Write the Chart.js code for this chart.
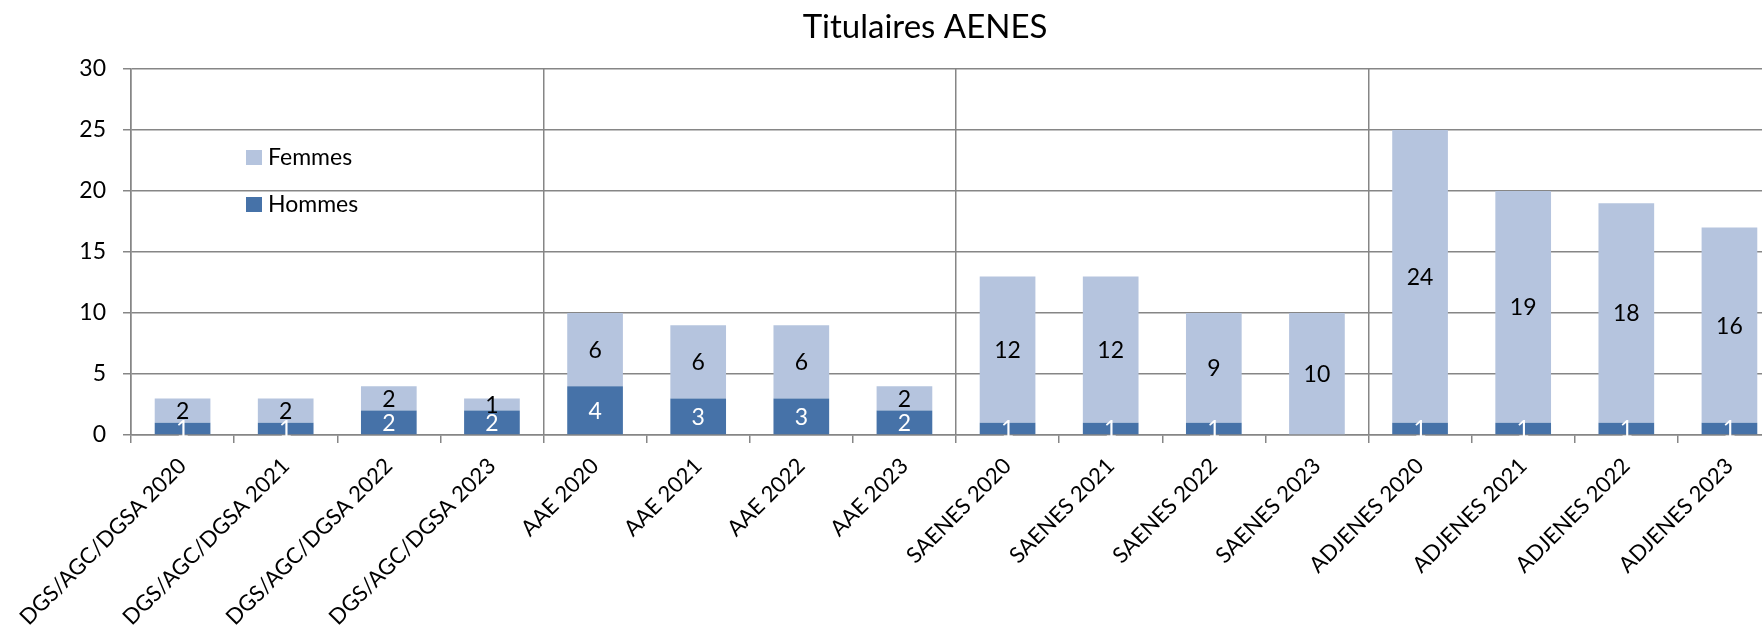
<!DOCTYPE html>
<html>
<head>
<meta charset="utf-8">
<script src="https://cdn.jsdelivr.net/npm/chart.js@4/dist/chart.umd.min.js"></script>
<style>
body { margin: 0; overflow: hidden; background: #fff; }
#wrap { width: 1762px; height: 634px; overflow: hidden; }
</style>
</head>
<body>
<div id="wrap"><canvas id="myChart" width="1854" height="634"></canvas></div>
<script>
var ctx = document.getElementById('myChart');

var categories = ['DGS/AGC/DGSA 2020', 'DGS/AGC/DGSA 2021', 'DGS/AGC/DGSA 2022', 'DGS/AGC/DGSA 2023',
  'AAE 2020', 'AAE 2021', 'AAE 2022', 'AAE 2023',
  'SAENES 2020', 'SAENES 2021', 'SAENES 2022', 'SAENES 2023',
  'ADJENES 2020', 'ADJENES 2021', 'ADJENES 2022', 'ADJENES 2023'];
var hommes = [1, 1, 2, 2, 4, 3, 3, 2, 1, 1, 1, 0, 1, 1, 1, 1];
var femmes = [2, 2, 2, 1, 6, 6, 6, 2, 12, 12, 9, 10, 24, 19, 18, 16];
var yTicks = [0, 5, 10, 15, 20, 25, 30];

var gridGrey = '#868686';
var fontName = 'Lato';

// value labels in the middle of each segment
var valueLabels = {
  id: 'valueLabels',
  afterDatasetsDraw: function (chart) {
    var c = chart.ctx;
    c.save();
    c.font = '23px ' + fontName;
    c.textAlign = 'center';
    c.textBaseline = 'middle';
    chart.data.datasets.forEach(function (ds, i) {
      var meta = chart.getDatasetMeta(i);
      c.fillStyle = ds.labelColor;
      meta.data.forEach(function (bar, j) {
        var v = ds.data[j];
        if (!v) return;
        var p = bar.getProps(['x', 'y', 'base'], true);
        c.fillText(String(v), p.x, (p.y + p.base) / 2 + 1);
      });
    });
    c.restore();
  }
};

// title + legend inside the plot, like the original
var titleAndLegend = {
  id: 'titleAndLegend',
  afterDraw: function (chart) {
    var c = chart.ctx;
    var area = chart.chartArea;
    c.save();
    c.fillStyle = '#000';
    c.font = '33px ' + fontName;
    c.textAlign = 'center';
    c.textBaseline = 'middle';
    c.fillText('Titulaires AENES', 925, 27);

    var items = chart.data.datasets.slice().reverse();
    c.font = '23px ' + fontName;
    c.textAlign = 'left';
    items.forEach(function (ds, k) {
      var y = area.top + 88 + k * 47;
      c.fillStyle = ds.backgroundColor;
      c.fillRect(area.left + 115, y - 7, 16, 15);
      c.fillStyle = '#000';
      c.fillText(ds.label, area.left + 137, y + 1);
    });
    c.restore();
  }
};

var chart = new Chart(ctx, {
  type: 'bar',
  data: {
    labels: categories,
    datasets: [{
      label: 'Hommes',
      data: hommes,
      backgroundColor: '#4672a8',
      labelColor: '#ffffff'
    }, {
      label: 'Femmes',
      data: femmes,
      backgroundColor: '#b5c4de',
      labelColor: '#000000'
    }]
  },
  options: {
    responsive: false,
    animation: false,
    layout: { padding: { top: 69, right: 73, left: 0, bottom: 0 } },
    categoryPercentage: 1,
    barPercentage: 0.54,
    plugins: {
      legend: { display: false },
      title: { display: false },
      tooltip: { enabled: false }
    },
    scales: {
      x: {
        stacked: true,
        offset: true,
        afterFit: function (scale) {
          scale.height = 199;
          scale.paddingLeft = 0;
          scale.paddingRight = 0;
        },
        grid: {
          offset: true,
          color: function (c) { return c.index % 4 === 0 ? gridGrey : 'rgba(0,0,0,0)'; },
          tickColor: gridGrey,
          tickLength: 8,
          lineWidth: 1.5
        },
        border: { color: gridGrey, width: 1.5 },
        ticks: {
          color: '#000',
          font: { family: fontName, size: 22 },
          minRotation: 45,
          maxRotation: 45,
          autoSkip: false,
          padding: 10
        }
      },
      y: {
        stacked: true,
        min: 0,
        max: 30,
        afterFit: function (scale) { scale.width = 131; },
        afterBuildTicks: function (scale) {
          scale.ticks = yTicks.map(function (v) { return { value: v }; });
        },
        grid: {
          color: gridGrey,
          tickColor: gridGrey,
          tickLength: 8,
          lineWidth: 1.5
        },
        border: { color: gridGrey, width: 1.5 },
        ticks: {
          color: '#000',
          font: { family: fontName, size: 23 },
          padding: 17
        }
      }
    }
  },
  plugins: [valueLabels, titleAndLegend]
});
</script>
</body>
</html>
